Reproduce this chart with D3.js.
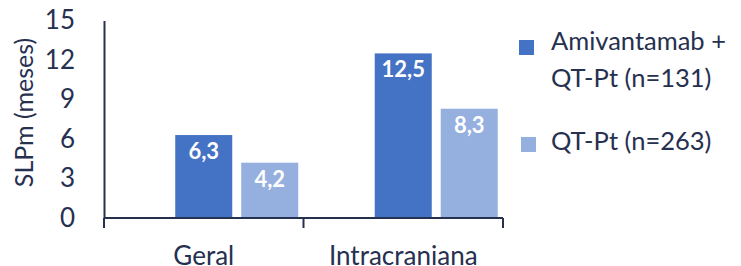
<!DOCTYPE html>
<html>
<head>
  <meta charset="utf-8">
  <title>SLPm</title>
  <script src="https://cdn.jsdelivr.net/npm/d3@7"></script>
  <style>
    body { margin: 0; background: #fff; }
    text { font-family: Lato, "Noto Sans", sans-serif; fill: #26304f; }
  </style>
</head>
<body>
<script>
  // data
  var categories = ["Geral", "Intracraniana"];
  var series = ["Amivantamab + QT-Pt (n=131)", "QT-Pt (n=263)"];
  var amivValues = [6.3, 12.5];
  var qtptValues = [4.2, 8.3];
  var yTicks = [0, 3, 6, 9, 12, 15];
  var colors = ["#4472c4", "#95b0de"];

  var width = 741, height = 266;
  var margin = {top: 20.5, right: 238, bottom: 48, left: 104};

  var svg = d3.select("body").append("svg")
    .attr("width", width)
    .attr("height", height);

  var dataset = [];
  for (let i = 0; i < categories.length; i++) {
    dataset.push({cat: categories[i], vals: [amivValues[i], qtptValues[i]]});
  }

  var x0 = d3.scaleBand().domain(categories)
    .range([margin.left, width - margin.right])
    .padding(0);
  // the original leaves an empty slot in front of each pair
  var x1 = d3.scaleBand().domain(["_empty", 0, 1])
    .range([0, x0.bandwidth()])
    .paddingInner(0.136)
    .paddingOuter(0.08);
  var y = d3.scaleLinear().domain([0, 15])
    .range([height - margin.bottom, margin.top]);

  // bars
  var groups = svg.append("g").attr("id", "bars")
    .selectAll("g")
    .data(dataset)
    .enter()
    .append("g")
    .attr("transform", function(d) { return "translate(" + x0(d.cat) + ",0)"; });

  groups.selectAll("rect")
    .data(function(d) { return d.vals.map(function(v, i) { return {i: i, v: v}; }); })
    .enter()
    .append("rect")
    .attr("x", function(d) { return x1(d.i); })
    .attr("y", function(d) { return y(d.v); })
    .attr("width", x1.bandwidth())
    .attr("height", function(d) { return y(0) - y(d.v); })
    .attr("fill", function(d) { return colors[d.i]; });

  groups.selectAll("text")
    .data(function(d) { return d.vals.map(function(v, i) { return {i: i, v: v}; }); })
    .enter()
    .append("text")
    .attr("x", function(d) { return x1(d.i) + x1.bandwidth() / 2; })
    .attr("y", function(d) { return y(d.v) + 24; })
    .attr("text-anchor", "middle")
    .style("font-size", "22px")
    .style("font-weight", "bold")
    .style("fill", "#ffffff")
    .text(function(d) { return d3.format(".1f")(d.v).replace(".", ","); });

  // x axis
  var xAxis = svg.append("g")
    .attr("transform", "translate(0," + y(0) + ")")
    .call(d3.axisBottom(x0).tickSize(0).tickPadding(28.5));
  xAxis.select(".domain").remove();
  xAxis.selectAll("text").style("font-size", "26px").attr("fill", "#26304f");
  xAxis.append("line")
    .attr("x1", margin.left).attr("x2", width - margin.right)
    .attr("stroke", "#26304f").attr("stroke-width", 2);
  // category separators
  xAxis.selectAll(".sep")
    .data([margin.left].concat(categories.map(function(c) { return x0(c) + x0.bandwidth(); })))
    .enter()
    .append("line")
    .attr("class", "sep")
    .attr("x1", function(d) { return d; })
    .attr("x2", function(d) { return d; })
    .attr("y1", 0).attr("y2", 10)
    .attr("stroke", "#26304f").attr("stroke-width", 2);

  // y axis
  var yAxis = svg.append("g")
    .attr("transform", "translate(" + margin.left + ",0)")
    .call(d3.axisLeft(y).tickValues(yTicks).tickSize(0).tickPadding(29));
  yAxis.select(".domain").attr("stroke", "#26304f").attr("stroke-width", 2);
  yAxis.selectAll("text").style("font-size", "26px").attr("fill", "#26304f");

  svg.append("text")
    .attr("transform", "translate(" + 33 + "," + 112.5 + ")rotate(-90)")
    .attr("text-anchor", "middle")
    .style("font-size", "25px")
    .text("SLPm (meses)");

  // legend
  var legendLines = [["Amivantamab +", "QT-Pt (n=131)"], ["QT-Pt (n=263)"]];
  var legendY = [47.5, 144.5];
  var legendBase = [50, 150];
  var legend = svg.append("g").attr("id", "legend");
  for (let i = 0; i < series.length; i++) {
    legend.append("rect")
      .attr("x", 519 + i * 2)
      .attr("y", legendY[i] - 7.5)
      .attr("width", 15).attr("height", 15)
      .attr("fill", colors[i]);
    var t = legend.append("text")
      .attr("x", 551)
      .attr("y", legendBase[i])
      .style("font-size", "25.5px");
    legendLines[i].forEach(function(line, k) {
      t.append("tspan").attr("x", 551).attr("dy", k == 0 ? 0 : 36.7).text(line);
    });
  }
</script>
</body>
</html>
